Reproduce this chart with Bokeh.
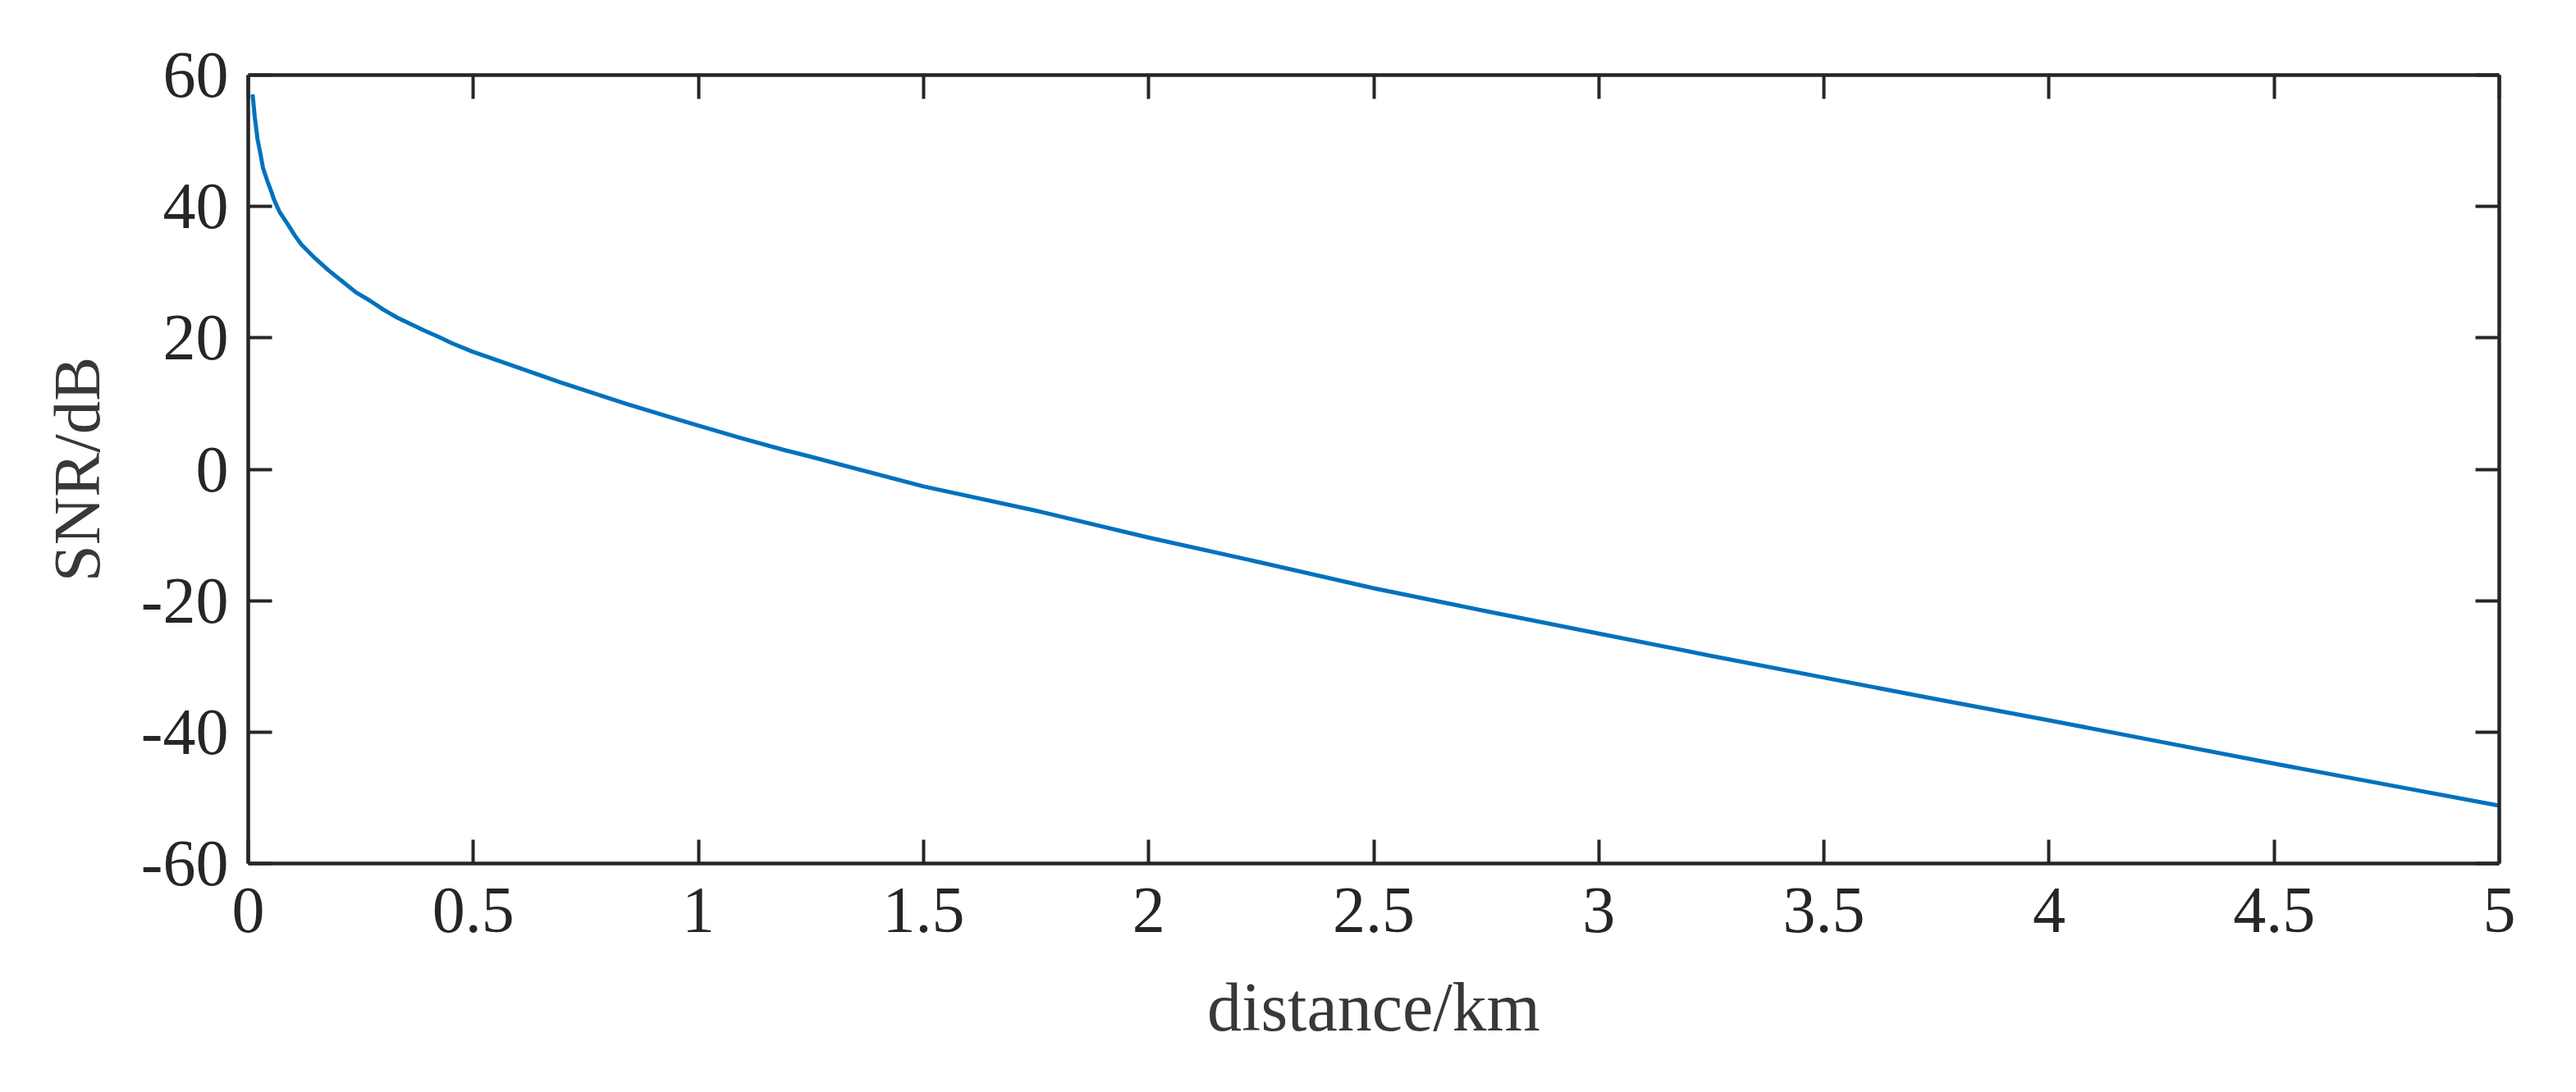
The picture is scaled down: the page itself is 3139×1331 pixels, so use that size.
from bokeh.plotting import figure
from bokeh.models import LinearAxis, FixedTicker, Range1d
from bokeh.embed import file_html
from bokeh.resources import INLINE

# ---- data ----
distance_km = [0.0097, 0.0146, 0.0207, 0.0267, 0.0328, 0.0419, 0.051, 0.0571, 0.0693,
               0.0875, 0.1027, 0.1179, 0.1482, 0.1786, 0.209, 0.2394, 0.2698, 0.3002,
               0.3305, 0.3609, 0.3913, 0.4217, 0.4521, 0.4982, 0.5545, 0.6939, 0.8334,
               0.9729, 1.0908, 1.187, 1.25, 1.5, 1.75, 2.0, 2.25,
               2.5, 2.75, 3.0, 3.25, 3.5, 3.75, 4.0, 4.25, 4.5, 4.75, 5.0]
snr_db = [57.07, 53.54, 50.21, 48.13, 45.85, 43.98, 42.32, 41.07, 39.2,
          37.33, 35.67, 34.21, 32.13, 30.26, 28.6, 26.93, 25.69, 24.3,
          23.1, 22.1, 21.1, 20.2, 19.2, 17.9, 16.55, 13.22, 10.1,
          7.19, 4.82, 3.0, 1.9, -2.6, -6.3, -10.4, -14.2,
          -18.1, -21.6, -25.0, -28.4, -31.7, -35.0, -38.2, -41.5, -44.8, -48.0, -51.2]

x_ticks = [0, 0.5, 1, 1.5, 2, 2.5, 3, 3.5, 4, 4.5, 5]
x_tick_labels = ["0", "0.5", "1", "1.5", "2", "2.5", "3", "3.5", "4", "4.5", "5"]
y_ticks = [-60, -40, -20, 0, 20, 40, 60]
y_tick_labels = ["-60", "-40", "-20", "0", "20", "40", "60"]
x_label = "distance/km"
y_label = "SNR/dB"

FONT = "Liberation Serif"
AX = "#262626"

p = figure(frame_width=2743, frame_height=961,
           x_range=Range1d(0, 5), y_range=Range1d(-60, 60),
           output_backend="svg", toolbar_location=None,
           min_border_left=302, min_border_right=86,
           min_border_top=91, min_border_bottom=271,
           background_fill_color="white", border_fill_color="white")
p.outline_line_color = None
p.xgrid.visible = False
p.ygrid.visible = False

p.line(distance_km, snr_db, line_width=5, line_color="#0072BD", line_join="round")

def style(ax, labels, ticks, show):
    ax.ticker = FixedTicker(ticks=ticks)
    ax.major_label_overrides = {t: (l if show else "") for t, l in zip(ticks, labels)}
    ax.axis_line_color = AX
    ax.axis_line_width = 4.5
    ax.major_tick_line_color = AX
    ax.major_tick_line_width = 4
    ax.major_tick_in = 29
    ax.major_tick_out = 0
    ax.minor_tick_line_color = None
    ax.major_label_text_font = FONT
    ax.major_label_text_color = AX
    ax.major_label_text_font_size = "80px"
    ax.major_label_standoff = 24
    ax.axis_label_text_font = FONT
    ax.axis_label_text_font_style = "normal"
    ax.axis_label_text_color = "#383838"
    ax.axis_label_text_font_size = "84px"

xa = p.xaxis[0]
style(xa, x_tick_labels, x_ticks, True)
xa.major_label_standoff = 30
xa.axis_label = x_label
xa.axis_label_standoff = 42
ya = p.yaxis[0]
style(ya, y_tick_labels, y_ticks, True)
ya.axis_label = y_label
ya.axis_label_text_font_size = "81px"
ya.axis_label_standoff = 30

top = LinearAxis()
style(top, x_tick_labels, x_ticks, False)
p.add_layout(top, "above")
right = LinearAxis()
style(right, y_tick_labels, y_ticks, False)
p.add_layout(right, "right")

open("out.html", "w").write(file_html(p, INLINE))
